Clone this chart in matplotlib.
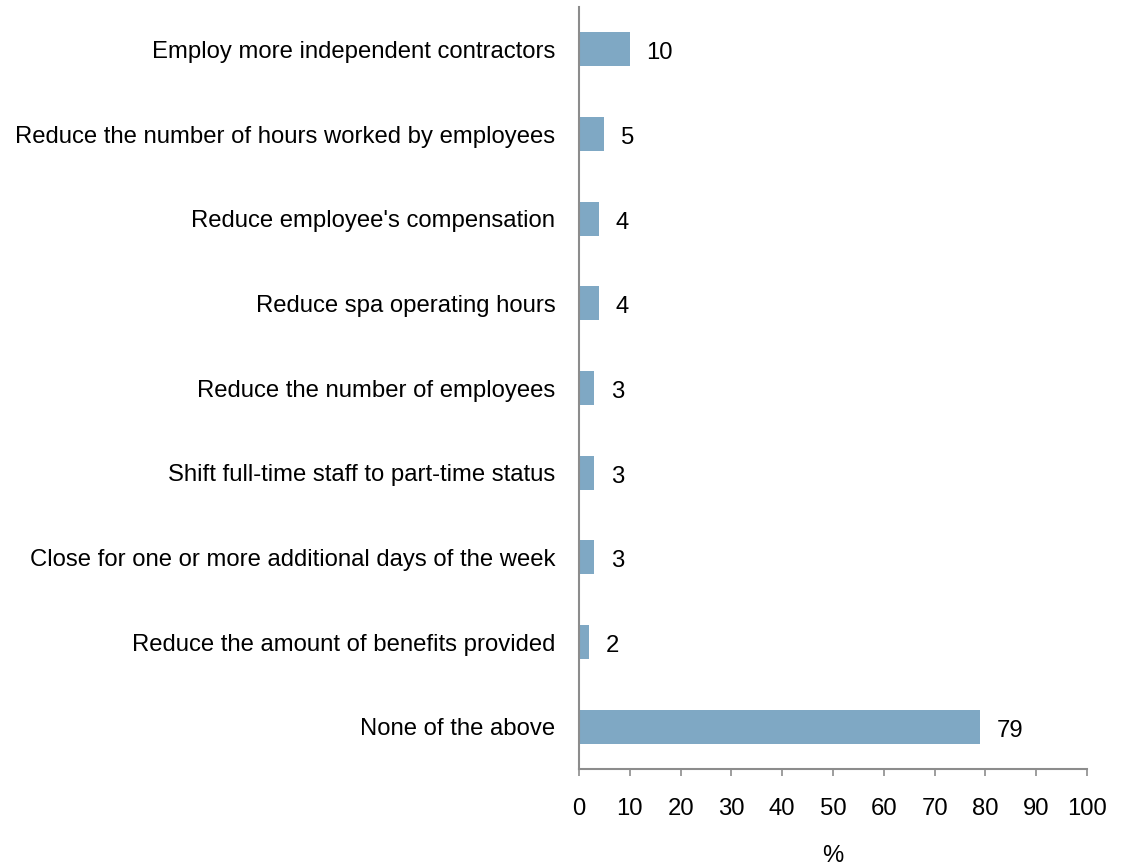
import matplotlib
matplotlib.use("Agg")
import matplotlib.pyplot as plt

categories = [
    "Employ more independent contractors",
    "Reduce the number of hours worked by employees",
    "Reduce employee's compensation",
    "Reduce spa operating hours",
    "Reduce the number of employees",
    "Shift full-time staff to part-time status",
    "Close for one or more additional days of the week",
    "Reduce the amount of benefits provided",
    "None of the above",
]
values = [10, 5, 4, 4, 3, 3, 3, 2, 79]
xticks = list(range(0, 101, 10))

plt.rcParams["font.family"] = ["Liberation Sans", "DejaVu Sans"]

fig = plt.figure(figsize=(11.28, 8.66), dpi=100)
ax = fig.add_axes([579 / 1128, 97 / 866, 508 / 1128, 762 / 866])

bar_color = "#7fa8c4"
spine_color = "#8c8c8c"
fs = 17.2

ypos = list(range(len(categories)))
ax.barh(ypos, values, height=0.4, color=bar_color)
for y, v in zip(ypos, values):
    ax.annotate(f"{v}", xy=(v, y), xytext=(12, -1), textcoords="offset points",
                va="center_baseline", ha="left", fontsize=fs)

ax.set_ylim(len(categories) - 0.5, -0.5)
ax.set_xlim(0, 100)
ax.set_xticks(xticks)
ax.set_yticks(ypos)
ax.set_yticklabels(categories, fontsize=fs)
ax.tick_params(axis="y", length=0, pad=17)
ax.tick_params(axis="x", length=5, width=1.2, color=spine_color, labelsize=fs, pad=16)

for side in ("top", "right"):
    ax.spines[side].set_visible(False)
for side in ("left", "bottom"):
    ax.spines[side].set_color(spine_color)
    ax.spines[side].set_linewidth(1.5)

ax.set_xlabel("%", fontsize=fs, labelpad=18)

fig.savefig("out.png", dpi=100)
